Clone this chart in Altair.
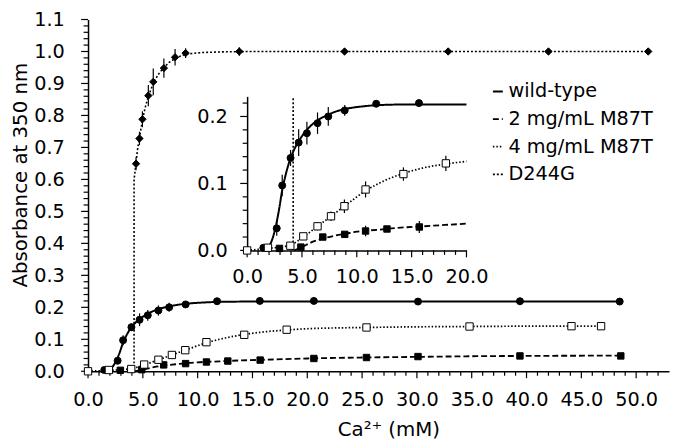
import altair as alt
import pandas as pd

SERIES = ["wild-type", "2 mg/mL M87T", "4 mg/mL M87T", "D244G"]

# ---- measured points (Ca2+ mM, absorbance, error) ----
wt_x = [1.48, 2.7, 3.2, 3.96, 4.7, 5.45, 6.42, 7.4, 8.9, 11.77, 15.67, 20.6, 30.1, 39.4, 48.5]
wt_y = [0.004, 0.033, 0.097, 0.138, 0.161, 0.175, 0.19, 0.2, 0.209, 0.219, 0.22, 0.22, 0.218, 0.219, 0.218]
wt_e = [0.002, 0.011, 0.016, 0.012, 0.02, 0.017, 0.016, 0.014, 0.008, 0.004, 0.003, 0.002, 0.002, 0.002, 0.002]

m2_x = [2.95, 4.9, 6.9, 8.9, 10.8, 12.75, 15.7, 20.6, 25.4, 30.1, 39.4, 48.6]
m2_y = [0.003, 0.005, 0.02, 0.024, 0.029, 0.032, 0.035, 0.04, 0.043, 0.046, 0.048, 0.048]
m2_e = [0.002, 0.002, 0.004, 0.003, 0.008, 0.002, 0.009, 0.003, 0.004, 0.003, 0.003, 0.004]

m4_x = [0.0, 1.9, 3.94, 5.12, 6.42, 7.65, 8.87, 10.8, 14.25, 18.12, 25.4, 34.8, 44.1, 46.8]
m4_y = [0.0, 0.004, 0.007, 0.021, 0.036, 0.051, 0.066, 0.091, 0.114, 0.130, 0.137, 0.140, 0.141, 0.141]
m4_e = [0.0, 0.002, 0.003, 0.003, 0.006, 0.007, 0.01, 0.012, 0.01, 0.0115, 0.005, 0.004, 0.003, 0.003]

d2_x = [4.38, 4.69, 4.96, 5.5, 5.95, 6.92, 7.94, 8.9, 13.8, 23.4, 32.85, 42.0, 51.1]
d2_y = [0.649, 0.728, 0.788, 0.862, 0.905, 0.948, 0.982, 0.995, 1.0, 1.0, 1.0, 1.0, 1.0]
d2_e = [0.02, 0.021, 0.025, 0.033, 0.042, 0.03, 0.026, 0.015, 0.013, 0.01, 0.01, 0.008, 0.008]

# ---- fitted curves ----
wt_fx = [1.75, 2.0, 2.3, 2.6, 2.9, 3.2, 3.5, 3.9, 4.3, 4.7, 5.2, 5.8, 6.5, 7.3, 8.2, 9.2, 10.5, 12.0, 15.0, 20.0, 48.5]
wt_fy = [0.0, 0.006, 0.017, 0.035, 0.06, 0.09, 0.112, 0.135, 0.151, 0.163, 0.175, 0.186, 0.195, 0.202, 0.208, 0.212, 0.215, 0.217, 0.218, 0.218, 0.218]

m2_fx = [4.3, 5.0, 6.0, 7.0, 8.0, 9.0, 10.0, 12.0, 14.0, 16.0, 20.0, 25.0, 30.0, 35.0, 40.0, 48.6]
m2_fy = [0.0, 0.005, 0.013, 0.018, 0.022, 0.025, 0.028, 0.031, 0.034, 0.036, 0.04, 0.043, 0.045, 0.047, 0.048, 0.049]

m4_fx = [0.0, 1.9, 3.0, 3.94, 5.12, 6.42, 7.65, 8.87, 10.8, 12.5, 14.25, 16.0, 18.12, 20.0, 25.4, 30.0, 34.8, 40.0, 46.8]
m4_fy = [0.0, 0.003, 0.005, 0.008, 0.02, 0.036, 0.051, 0.066, 0.089, 0.104, 0.115, 0.123, 0.129, 0.133, 0.137, 0.139, 0.140, 0.141, 0.141]

d2_fx = [4.2, 4.2, 4.38, 4.5, 4.69, 4.96, 5.2, 5.5, 5.95, 6.4, 6.92, 7.4, 7.94, 8.5, 9.2, 10.5, 12.5, 15.0, 20.0, 51.1]
d2_fy = [0.0, 0.6, 0.652, 0.69, 0.73, 0.785, 0.823, 0.86, 0.9, 0.928, 0.95, 0.966, 0.978, 0.987, 0.993, 0.997, 0.999, 1.0, 1.0, 1.0]

# ---- axis tick values ----
MAIN_X_TICKS = list(range(0, 53))
MAIN_Y_TICKS = [round(i * 0.02, 2) for i in range(56)]
INS_X_TICKS = list(range(0, 21))
INS_Y_TICKS = [round(i * 0.02, 2) for i in range(12)]

# marker style per series: shape, fill, size
MARKERS = {
    "wild-type": ("circle", "black", 50),
    "2 mg/mL M87T": ("square", "black", 42),
    "4 mg/mL M87T": ("square", "white", 55),
    "D244G": ("diamond", "black", 55),
}

W, H = 588, 356
MAIN_XMAX, MAIN_YMAX = 53, 1.1
INS_XMAX, INS_YMAX = 20, 0.23
INS_LEFT, INS_RIGHT = 161, 383
INS_BOTTOM, INS_TOP = 233.7, 77.8
MAJOR_LEN, MINOR_LEN = 7, 4.5

# pixels per data unit (for tick lengths only)
PPU = {
    "main_x": W / MAIN_XMAX, "main_y": H / MAIN_YMAX,
    "ins_x": (INS_RIGHT - INS_LEFT) / INS_XMAX, "ins_y": (INS_BOTTOM - INS_TOP) / INS_YMAX,
}


def is_major_x(v):
    return v % 5 == 0


def is_major_y(v):
    return abs(v * 10 - round(v * 10)) < 1e-6


def points_frame():
    rows = []
    for s, xs, ys, es in zip(SERIES, [wt_x, m2_x, m4_x, d2_x], [wt_y, m2_y, m4_y, d2_y], [wt_e, m2_e, m4_e, d2_e]):
        for x, y, e in zip(xs, ys, es):
            rows.append({"kind": s, "x": x, "y": y, "lo": y - e, "hi": y + e, "xlo": x, "xhi": x})
    # axis tick marks (anchored on the axis line, drawn outward)
    for prefix, xt, yt in [("main", MAIN_X_TICKS, MAIN_Y_TICKS), ("ins", INS_X_TICKS, INS_Y_TICKS)]:
        for v in xt:
            L = MAJOR_LEN if is_major_x(v) else MINOR_LEN
            rows.append({"kind": f"{prefix}_tx", "x": float(v), "y": 0.0, "lo": 0.0,
                         "hi": -L / PPU[f"{prefix}_y"], "xlo": float(v), "xhi": float(v)})
        for v in yt:
            L = MAJOR_LEN if is_major_y(v) else MINOR_LEN
            rows.append({"kind": f"{prefix}_ty", "x": 0.0, "y": float(v), "lo": float(v), "hi": float(v),
                         "xlo": 0.0, "xhi": -L / PPU[f"{prefix}_x"]})
    return pd.DataFrame(rows)


def fit_frame():
    rows = []
    for s, xs, ys in zip(SERIES, [wt_fx, m2_fx, m4_fx, d2_fx], [wt_fy, m2_fy, m4_fy, d2_fy]):
        for i, (x, y) in enumerate(zip(xs, ys)):
            rows.append({"series": s, "x": x, "y": y, "order": i})
    return pd.DataFrame(rows)


pts = points_frame()
fit = fit_frame()

FONT = "DejaVu Sans"
LABEL_SIZE = 19.5

x_major = "datum.value % 5 === 0"
y_major = "abs(datum.value * 10 - round(datum.value * 10)) < 0.001"

dash_scale = alt.Scale(domain=SERIES, range=[[1, 0], [6, 3], [1.5, 2], [2, 2]])
width_scale = alt.Scale(domain=SERIES, range=[2.0, 1.6, 1.4, 1.4])

AX_STYLE = dict(ticks=False, domainColor="black", domainWidth=1.5, labelOverlap=False, labelFlush=False,
                labelFont=FONT, labelFontSize=LABEL_SIZE, labelColor="black")

# ---- main scales / axes ----
main_xs = alt.Scale(domain=[0, MAIN_XMAX], nice=False, zero=False)
main_ys = alt.Scale(domain=[0, MAIN_YMAX], nice=False, zero=False)
main_xa = alt.Axis(
    values=MAIN_X_TICKS,
    labelExpr=f"{x_major} ? format(datum.value, '.1f') : ''",
    labelPadding=20,
    title="Ca²⁺ (mM)", titleX=304, titleY=59, titleBaseline="middle", titleAlign="center",
    orient="bottom", **AX_STYLE,
)
main_ya = alt.Axis(
    values=MAIN_Y_TICKS,
    labelExpr=f"{y_major} ? format(datum.value, '.1f') : ''",
    labelPadding=24,
    title="Absorbance at 350 nm", titleX=-68, titleY=157, titleBaseline="middle", titleAlign="center",
    orient="left", **AX_STYLE,
)

# ---- inset scales / axes (same data, zoomed) ----
ins_xs = alt.Scale(domain=[0, INS_XMAX], range=[INS_LEFT, INS_RIGHT], nice=False, zero=False)
ins_ys = alt.Scale(domain=[0, INS_YMAX], range=[INS_BOTTOM, INS_TOP], nice=False, zero=False)
ins_xa = alt.Axis(
    values=INS_X_TICKS,
    labelExpr=f"{x_major} ? format(datum.value, '.1f') : ''",
    labelPadding=17,
    title=None, orient="bottom", offset=-(H - INS_BOTTOM), **AX_STYLE,
)
ins_ya = alt.Axis(
    values=INS_Y_TICKS,
    labelExpr=f"{y_major} ? format(datum.value, '.1f') : ''",
    labelPadding=20,
    title=None, orient="left", offset=-INS_LEFT, **AX_STYLE,
)

legend = alt.Legend(
    title=None, orient="none", legendX=405, legendY=63,
    symbolType="stroke", symbolSize=100, symbolStrokeWidth=1.6, symbolStrokeColor="black",
    labelFont=FONT, labelFontSize=LABEL_SIZE, labelColor="black", labelOffset=1,
    rowPadding=7, padding=0,
)

SERIES_TEST = "(" + " || ".join(f"datum.kind === '{s}'" for s in SERIES) + ")"


def build(prefix, xs, ys, xa, ya, xmax, ymax, fit_filter, show_legend):
    X = alt.X("x:Q", scale=xs, axis=xa)
    Yc = alt.Y("yc:Q", scale=ys, axis=ya)
    Y = alt.Y("y:Q", scale=ys, axis=ya)
    dash = alt.StrokeDash("series:N", scale=dash_scale, legend=legend if show_legend else None)
    sw = alt.StrokeWidth("series:N", scale=width_scale, legend=None)
    smooth = (
        alt.Chart(fit)
        .transform_filter(f"datum.series !== 'D244G' && datum.x <= {xmax}")
        .transform_calculate(yc=f"min(datum.y, {ymax})")
        .mark_line(interpolate="monotone", color="black")
        .encode(x=X, y=Yc, strokeDash=dash, strokeWidth=sw, order="order:Q")
    )
    d244 = (
        alt.Chart(fit)
        .transform_filter(f"datum.series === 'D244G' && ({fit_filter})")
        .transform_calculate(yc=f"min(datum.y, {ymax})")
        .mark_line(interpolate="linear", color="black")
        .encode(x=X, y=Yc, strokeDash=dash, strokeWidth=sw, order="order:Q")
    )
    in_view = f"datum.x <= {xmax} && datum.y <= {ymax}"
    vrules = (
        alt.Chart(pts)
        .transform_filter(f"({SERIES_TEST} && {in_view}) || datum.kind === '{prefix}_tx'")
        .mark_rule(color="black", strokeWidth=1.2)
        .encode(x=X, y=alt.Y("lo:Q", scale=ys, axis=ya), y2="hi:Q")
    )
    hrules = (
        alt.Chart(pts)
        .transform_filter(f"datum.kind === '{prefix}_ty'")
        .mark_rule(color="black", strokeWidth=1.2)
        .encode(x=alt.X("xlo:Q", scale=xs, axis=xa), x2="xhi:Q", y=Y)
    )
    layers = [smooth, d244, vrules, hrules]
    for s in SERIES:
        shape, fill, size = MARKERS[s]
        layers.append(
            alt.Chart(pts)
            .transform_filter(f"datum.kind === '{s}' && {in_view}")
            .mark_point(shape=shape, filled=True, fill=fill, stroke="black", strokeWidth=1,
                        size=size, opacity=1)
            .encode(x=X, y=Y)
        )
    return alt.layer(*layers)


main = build("main", main_xs, main_ys, main_xa, main_ya, MAIN_XMAX, MAIN_YMAX, "true", True)
inset = build("ins", ins_xs, ins_ys, ins_xa, ins_ya, INS_XMAX, INS_YMAX, "datum.x <= 4.2", False)

chart = (
    alt.layer(main, inset)
    .resolve_scale(x="independent", y="independent")
    .properties(
        width=W, height=H,
        padding={"left": 81, "top": 9, "right": 3, "bottom": 75},
        autosize=alt.AutoSizeParams(type="none"),
    )
    .configure_view(stroke=None)
    .configure_axis(grid=False, titleFont=FONT, titleFontSize=20,
                    titleFontWeight="normal", titleColor="black")
)

chart.save("out.html", embed_options={"renderer": "svg", "actions": False})
